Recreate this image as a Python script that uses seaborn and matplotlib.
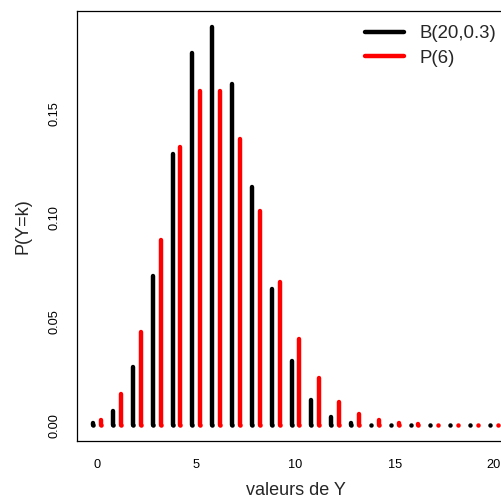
import matplotlib
matplotlib.use("Agg")
import matplotlib.pyplot as plt
import seaborn as sns
import numpy as np

k = list(range(21))
binom = [0.000798, 0.006839, 0.027846, 0.071604, 0.130421, 0.178863, 0.191639,
         0.164262, 0.114397, 0.065370, 0.030817, 0.012007, 0.003859, 0.001018,
         0.000218, 0.000037, 0.000005, 0.0000006, 0.00000006, 0.000000003, 0.00000000003]
poisson = [0.002479, 0.014873, 0.044618, 0.089235, 0.133853, 0.160623, 0.160623,
           0.137677, 0.103258, 0.068838, 0.041303, 0.022529, 0.011264, 0.005199,
           0.002228, 0.000891, 0.000334, 0.000118, 0.000039, 0.000012, 0.000004]
xticks = [0, 5, 10, 15, 20]
yticks = [0.00, 0.05, 0.10, 0.15]
labels = ["B(20,0.3)", "P(6)"]

sns.set_style("white")
plt.rcParams['font.family'] = ['Liberation Sans', 'DejaVu Sans']
plt.rcParams['path.simplify'] = False

fig = plt.figure(figsize=(5.02, 5.01), dpi=100)
ax = fig.add_axes([77/502, 60/501, (514-77)/502, 430/501])

kb = np.array(k) - 0.2
kp = np.array(k) + 0.2
for xs, ys, col, lab in ((kb, binom, 'black', labels[0]), (kp, poisson, 'red', labels[1])):
    lc = ax.vlines(xs, 0, ys, colors=col, linewidth=3.2, label=lab)
    lc.set_capstyle('round')
    # round caps of stems (visible as dots for near-zero probabilities)
    ax.scatter(xs, [0] * len(xs), s=3.2 ** 2, color=col, marker='o', linewidths=0, zorder=3)

ax.set_xlim(-1.016, 21.016)
ax.set_ylim(-0.00767, 0.1993)
ax.set_xticks(xticks)
ax.set_xticklabels([str(t) for t in xticks])
ax.set_yticks(yticks)
ax.set_yticklabels([f"{t:.2f}" for t in yticks], rotation=90, va='center')
ax.tick_params(axis='both', direction='out', length=5, width=0.8, color='black',
               labelsize=9.2, labelcolor='black')
ax.tick_params(axis='x', pad=8)
ax.tick_params(axis='y', pad=7)
for s in ax.spines.values():
    s.set_color('black')
    s.set_linewidth(0.9)
    s.set_visible(True)

ax.set_xlabel("valeurs de Y", fontsize=13, labelpad=8)
ax.set_ylabel("P(Y=k)", fontsize=13, labelpad=12)

from matplotlib.lines import Line2D
handles = [Line2D([0], [0], color='black', lw=3.2, solid_capstyle='round'),
           Line2D([0], [0], color='red', lw=3.2, solid_capstyle='round')]
fig.legend(handles, labels, loc='upper left', bbox_to_anchor=(365/502, 1 - 25/501),
           frameon=False, fontsize=13.4, handlelength=2.1, handletextpad=0.85,
           labelspacing=0.42, borderaxespad=0, borderpad=0)

fig.savefig("out.png", dpi=100)
